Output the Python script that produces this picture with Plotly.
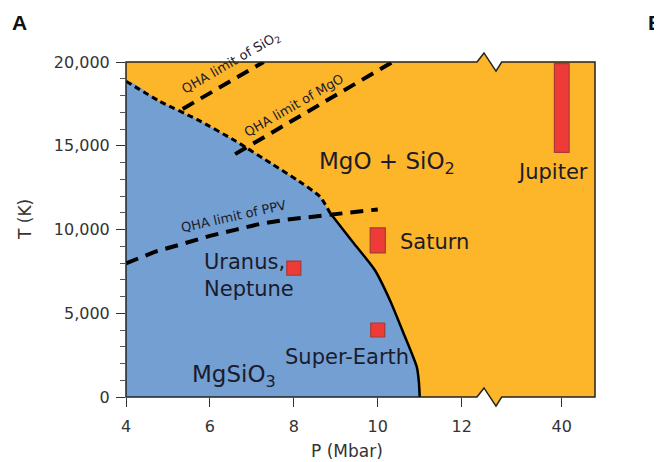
import plotly.graph_objects as go

# ---------------- data ----------------
# phase boundary MgSiO3 -> MgO + SiO2 (dashed, extrapolated part)
BOUND_DASH_P = [4.0, 4.8, 5.7, 6.6, 7.5, 8.07, 8.62, 8.86]
BOUND_DASH_T = [18850, 17660, 16560, 15300, 13880, 12970, 11970, 11000]
# phase boundary (solid part)
BOUND_SOLID_P = [8.86, 9.4, 9.93, 10.29, 10.6, 10.93, 10.98, 11.0]
BOUND_SOLID_T = [11000, 9270, 7580, 5780, 3900, 1800, 900, 0]

# QHA limits
QHA_SIO2_P = [5.35, 7.28]
QHA_SIO2_T = [17200, 20000]
QHA_MGO_P = [6.6, 10.35]
QHA_MGO_T = [14500, 20000]
QHA_PPV_P = [4.0, 4.7, 5.4, 6.0, 6.6, 7.2, 7.8, 8.5, 8.9, 9.4, 10.0]
QHA_PPV_T = [7980, 8680, 9180, 9620, 9980, 10340, 10580, 10770, 10870, 11050, 11200]

# planets
POINT_NAMES = ["Uranus, Neptune", "Super-Earth"]
POINT_P = [8.0, 10.0]
POINT_T = [7700, 4000]
RANGE_NAMES = ["Saturn", "Jupiter"]
RANGE_P = [10.0, 40.0]
RANGE_TLOW = [8600, 14600]
RANGE_THIGH = [10100, 19900]

X_TICKS = [4, 6, 8, 10, 12, 40]
X_TICK_LABELS = ["4", "6", "8", "10", "12", "40"]

# ---------------- broken-axis transform ----------------
X40_POS = 14.385  # position where P = 40 is drawn after the axis break


def xv(p):
    if p <= 12:
        return p
    return 12 + (p - 12) * (X40_POS - 12) / (40 - 12)


def xs(ps):
    return [xv(p) for p in ps]


ORANGE = "#FDB52A"
BLUE = "#739FD3"
RED = "#EE3B38"
RED_EDGE = "#A83A34"
TXT = "#1b1b2b"
FONT = "DejaVu Sans"

fig = go.Figure()

# blue MgSiO3 region
blue_x = [4.0] + BOUND_DASH_P + BOUND_SOLID_P[1:] + [4.0]
blue_y = [0] + BOUND_DASH_T + BOUND_SOLID_T[1:] + [0]
fig.add_trace(go.Scatter(x=xs(blue_x), y=blue_y, fill="toself", fillcolor=BLUE,
                         mode="lines", line=dict(width=0, shape="spline", smoothing=0.6),
                         hoverinfo="skip"))

# boundaries
fig.add_trace(go.Scatter(x=xs(BOUND_DASH_P), y=BOUND_DASH_T, mode="lines",
                         line=dict(color="black", width=3, dash="6px,4px",
                                   shape="spline", smoothing=0.6)))
fig.add_trace(go.Scatter(x=xs(BOUND_SOLID_P), y=BOUND_SOLID_T, mode="lines",
                         line=dict(color="black", width=2.5, shape="spline", smoothing=0.6)))

# QHA limits
for P, T in [(QHA_SIO2_P, QHA_SIO2_T), (QHA_MGO_P, QHA_MGO_T), (QHA_PPV_P, QHA_PPV_T)]:
    fig.add_trace(go.Scatter(x=xs(P), y=T, mode="lines",
                             line=dict(color="black", width=4, dash="13px,8px")))

# planet ranges (bars)
fig.add_trace(go.Bar(x=xs(RANGE_P), base=RANGE_TLOW,
                     y=[h - l for h, l in zip(RANGE_THIGH, RANGE_TLOW)],
                     width=[0.36, 0.35], marker=dict(color=RED, line=dict(color=RED_EDGE, width=1.2)),
                     hoverinfo="skip"))
# planet points
fig.add_trace(go.Scatter(x=xs(POINT_P), y=POINT_T, mode="markers",
                         marker=dict(symbol="square", size=14, color=RED,
                                     line=dict(color=RED_EDGE, width=1.2))))

# ---------------- frame with axis break (paper coords) ----------------
b0, b1, b2, b3 = 0.7484, 0.7633, 0.7889, 0.801
a = 0.027
frame_path = (f"M 0,1 L {b0},1 L {b1},{1 + a} L {b2},{1 - a} L {b3},1 L 1,1 "
              f"L 1,0 L {b3},0 L {b2},{-a} L {b1},{a} L {b0},0 L 0,0 Z")

shapes = [
    dict(type="path", xref="paper", yref="paper", path=frame_path,
         fillcolor=ORANGE, line=dict(width=0), layer="below"),
    dict(type="path", xref="paper", yref="paper", path=frame_path,
         fillcolor="rgba(0,0,0,0)", line=dict(color="#222", width=1.5), layer="above"),
]

annotations = [
    dict(text="MgO + SiO<sub>2</sub>", x=xv(10.22), y=14000, font=dict(size=23)),
    dict(text="Jupiter", x=xv(40) - 0.22, y=13450, font=dict(size=21)),
    dict(text="Saturn", x=10.48, y=9250, xanchor="left", font=dict(size=21)),
    dict(text="Uranus,<br>Neptune", x=5.8, y=7280, xanchor="left", align="left", font=dict(size=21)),
    dict(text="Super-Earth", x=9.26, y=2375, font=dict(size=21)),
    dict(text="MgSiO<sub>3</sub>", x=6.57, y=1250, font=dict(size=23)),
    dict(text="QHA limit of SiO<sub>2</sub>", x=6.5, y=19910, textangle=-30, font=dict(size=13)),
    dict(text="QHA limit of MgO", x=8.0, y=17385, textangle=-30, font=dict(size=13)),
    dict(text="QHA limit of PPV", x=6.55, y=10800, textangle=-12.5, font=dict(size=13)),
]
for an in annotations:
    an.update(xref="x", yref="y", showarrow=False, yanchor="middle")
    an.setdefault("xanchor", "center")
    an["font"].update(family=FONT, color=TXT)


def px(xr):
    return (xr - 126) / 469


def py(yr):
    return (397 - yr) / 335


annotations += [
    dict(text="<b>A</b>", x=px(19), y=py(22), xanchor="center"),
    dict(text="<b>B</b>", x=px(646), y=py(22), xanchor="left"),
    dict(text="T (K)", x=px(25), y=py(220), textangle=-90, xanchor="center"),
    dict(text="P (Mbar)", x=px(347), y=py(451), xanchor="center"),
]
for an in annotations[-4:]:
    an.update(xref="paper", yref="paper", showarrow=False, yanchor="middle")
annotations[-4]["font"] = dict(family="Liberation Sans", size=21, color="#111")
annotations[-3]["font"] = dict(family="Liberation Sans", size=21, color="#111")
annotations[-2]["font"] = dict(family=FONT, size=17, color="#333")
annotations[-1]["font"] = dict(family=FONT, size=17, color="#333")

# page has an 8px body margin: figure is 654x454 so it fills the 662x462 window
fig.update_layout(
    width=654, height=454,
    margin=dict(l=118, r=67, t=54, b=65),
    paper_bgcolor="white", plot_bgcolor="rgba(0,0,0,0)",
    showlegend=False, barmode="overlay",
    shapes=shapes, annotations=annotations,
    xaxis=dict(range=[4, 4 + 469 / 41.96], tickvals=xs(X_TICKS), ticktext=X_TICK_LABELS,
               showgrid=False, zeroline=False, showline=False,
               ticks="outside", ticklen=9, tickcolor="#333", tickwidth=1,
               ticklabelstandoff=6,
               tickfont=dict(family=FONT, size=16, color="#333")),
    yaxis=dict(range=[0, 20000], tickvals=[0, 5000, 10000, 15000, 20000], tickformat=",",
               showgrid=False, zeroline=False, showline=False,
               ticks="outside", ticklen=9, tickcolor="#333", tickwidth=1,
               ticklabelstandoff=3,
               minor=dict(dtick=1000, ticks="outside", ticklen=5, tickcolor="#555", showgrid=False),
               tickfont=dict(family=FONT, size=16, color="#333")),
)

fig.write_html("out.html")
